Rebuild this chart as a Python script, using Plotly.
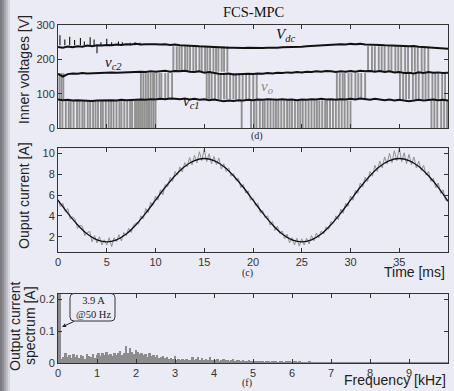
import plotly.graph_objects as go

# ---------------- data ----------------
TIME_TICKS = [0, 5, 10, 15, 20, 25, 30, 35, 40]
FREQ_TICKS = [0, 1, 2, 3, 4, 5, 6, 7, 8, 9, 10]

# measured output current (grey), 0.25 ms steps
I_STEP = 0.25
i_meas = [5.6, 4.9, 5.2, 4.4, 4.7, 3.7, 3.9, 3.7, 2.8, 3.1, 3.0, 2.1, 2.4, 2.5, 1.5, 2.1, 1.4, 2.0, 1.2, 1.7,
          1.2, 1.9, 1.05, 1.9, 1.5, 2.2, 1.6, 2.4, 2.1, 2.8, 2.4, 3.1, 3.35, 3.2, 4.0, 3.7, 4.7, 4.3, 5.3, 5.0,
          5.9, 5.5, 6.5, 6.0, 7.0, 6.8, 7.7, 7.3, 8.25, 7.9, 8.7, 8.2, 9.1, 8.7, 9.6, 8.9, 9.8, 9.1, 10.15, 9.3,
          10.4, 9.2, 9.95, 9.0, 9.7, 8.9, 9.55, 8.5, 9.0, 8.25, 8.6, 7.8, 8.05, 7.4, 7.6, 6.7, 7.0, 6.2, 6.4, 5.5,
          5.7, 5.0, 5.2, 4.3, 4.5, 3.8, 4.0, 3.1, 3.45, 2.6, 3.0, 2.3, 2.55, 1.8, 2.25, 1.4, 1.9, 1.2, 1.85, 1.1,
          1.8, 1.2, 1.85, 1.3, 2.1, 1.6, 2.35, 1.9, 2.55, 2.25, 2.95, 2.7, 3.45, 3.3, 4.0, 3.65, 4.65, 4.25, 5.2, 4.9,
          5.9, 5.5, 6.45, 6.15, 7.15, 6.75, 7.7, 7.3, 8.25, 7.8, 8.85, 8.25, 9.25, 8.6, 9.65, 9.0, 10.0, 9.1, 10.25, 9.3,
          10.5, 9.2, 10.05, 9.0, 9.9, 8.9, 9.65, 8.6, 9.25, 8.35, 8.85, 7.9, 8.25, 7.3, 7.6, 6.7, 7.15, 6.15, 6.5, 5.5,
          5.4]

# reference current (black), 1 ms steps
REF_STEP = 1.0
i_ref = [5.50, 4.26, 3.15, 2.26, 1.70, 1.50, 1.70, 2.26, 3.15, 4.26,
         5.50, 6.74, 7.85, 8.74, 9.30, 9.50, 9.30, 8.74, 7.85, 6.74,
         5.50, 4.26, 3.15, 2.26, 1.70, 1.50, 1.70, 2.26, 3.15, 4.26,
         5.50, 6.74, 7.85, 8.74, 9.30, 9.50, 9.30, 8.74, 7.85, 6.74, 5.40]

# inner voltages, 0.5 ms steps
V_STEP = 0.5
vdc = [236, 234, 237, 235, 238, 237, 240, 238, 241, 240, 242, 241, 243, 242, 244, 243, 245, 243, 244, 245,
       244, 243, 244, 242, 243, 241, 241, 240, 239, 238, 237, 237, 236, 235, 235, 234, 234, 233, 233, 234,
       233, 232, 233, 234, 233, 234, 235, 235, 236, 237, 237, 238, 239, 240, 241, 241, 242, 243, 244, 243,
       245, 244, 245, 243, 243, 244, 242, 241, 241, 240, 240, 239, 238, 239, 237, 236, 235, 234, 233, 232, 231]
vc2 = [158, 150, 157, 159, 158, 160, 159, 160, 161, 160, 161, 162, 161, 162, 163, 162, 163, 164, 163, 165,
       164, 165, 167, 164, 166, 165, 167, 164, 163, 165, 161, 163, 160, 158, 157, 159, 156, 157, 156, 158,
       157, 159, 158, 160, 159, 161, 160, 162, 161, 163, 162, 164, 163, 165, 164, 166, 165, 163, 165, 164,
       166, 164, 167, 165, 166, 164, 166, 163, 165, 162, 163, 160, 161, 159, 162, 160, 163, 161, 162, 160, 161]
vc1 = [83, 81, 82, 80, 81, 80, 81, 79, 80, 81, 80, 81, 80, 82, 81, 82, 81, 83, 82, 84,
       83, 85, 84, 86, 85, 84, 86, 83, 85, 82, 84, 81, 83, 80, 78, 80, 79, 81, 80, 82,
       81, 83, 82, 84, 83, 82, 84, 82, 83, 81, 83, 82, 84, 83, 85, 83, 84, 82, 84, 83,
       85, 83, 86, 84, 82, 85, 83, 81, 83, 80, 82, 80, 78, 80, 82, 80, 81, 83, 81, 82, 80]

vdc_base = 241
vdc_spike_t = [0.2, 0.7, 1.2, 1.7, 2.3, 2.7, 3.3, 3.7, 4.0, 4.4, 5.0, 5.5, 6.2, 6.6, 7.4, 7.9, 8.4]
vdc_spike_top = [270, 258, 266, 256, 262, 252, 264, 258, 218, 250, 260, 250, 252, 250, 248, 250, 248]

# switching instants of the output voltage v_o in each level band [ms]
vo_band_levels = [(80, 0), (160, 84), (238, 164)]
vo_pulses_0_80 = [0.2, 0.45, 0.8, 1.1, 1.3, 1.6, 1.95, 2.2, 2.5, 2.7, 3.05, 3.3, 3.6, 3.85, 4.1, 4.4, 4.6,
                  4.9, 5.2, 5.45, 5.7, 6.0, 6.3, 6.5, 6.8, 7.1, 7.4, 7.6, 7.9, 8.1, 8.3, 8.5, 8.7, 8.9, 9.1,
                  9.25, 9.4, 9.6, 9.8, 10.0, 18.84, 19.8, 20.1, 20.35, 20.7, 21.0, 21.2, 21.5, 21.8, 22.1,
                  22.35, 22.6, 22.9, 23.2, 23.5, 23.75, 24.0, 24.3, 24.6, 24.85, 25.1, 25.4, 25.7, 26.0,
                  26.3, 26.55, 26.8, 27.1, 27.4, 27.6, 27.9, 28.2, 28.5, 28.8, 29.1, 29.4, 29.7, 30.0,
                  38.3, 38.6, 38.9, 39.3, 39.6, 39.9]
vo_pulses_80_160 = [0.15, 0.35, 0.55, 8.5, 8.75, 9.0, 9.25, 9.5, 9.75, 9.85, 10.1, 10.4, 10.6, 11.0, 11.3,
                    11.7, 15.25, 15.5, 15.76, 16.1, 16.45, 16.69, 17.03, 17.3, 17.65, 17.99, 18.26, 18.6,
                    18.94, 19.29, 19.63, 20.03, 20.38, 28.6, 28.9, 29.2, 29.4, 29.8, 30.1, 30.5, 30.8, 31.1,
                    31.5, 35.07, 35.4, 35.7, 36.0, 36.4, 36.7, 37.0, 37.4, 37.7, 38.0, 38.4, 38.7, 39.0,
                    39.4, 39.7]
vo_pulses_160_240 = [11.83, 12.18, 12.45, 12.69, 13.03, 13.27, 13.54, 13.88, 14.16, 14.5, 14.74, 15.08,
                     15.32, 15.6, 15.94, 16.21, 16.45, 16.79, 17.03, 17.37, 31.8, 32.2, 32.5, 32.9, 33.2,
                     33.5, 33.9, 34.2, 34.6, 34.9, 35.2, 35.6, 35.9, 36.3, 36.6, 36.9, 37.3, 37.6, 37.98]

# output current spectrum, 50 Hz bins starting at 50 Hz [A]
SPEC_DF = 0.05
spec_amp = [3.9, 0.012, 0.02, 0.03, 0.018, 0.025, 0.015, 0.028, 0.02, 0.024, 0.017, 0.026, 0.021, 0.014, 0.027, 0.022, 0.019, 0.029, 0.016, 0.024,
            0.032, 0.022, 0.03, 0.026, 0.034, 0.025, 0.028, 0.021, 0.031, 0.024, 0.03, 0.038, 0.026, 0.033, 0.052, 0.03, 0.046, 0.036, 0.028, 0.04,
            0.035, 0.027, 0.031, 0.024, 0.029, 0.02, 0.033, 0.022, 0.026, 0.018, 0.024, 0.016, 0.02, 0.022, 0.015, 0.019, 0.013, 0.017, 0.012, 0.021,
            0.011, 0.014, 0.009, 0.012, 0.01, 0.013, 0.009, 0.011, 0.02, 0.01, 0.012, 0.018, 0.009, 0.016, 0.011, 0.014, 0.008, 0.02, 0.009, 0.011,
            0.008, 0.012, 0.007, 0.01, 0.014, 0.008, 0.011, 0.007, 0.009, 0.012, 0.006, 0.01, 0.008, 0.005, 0.009, 0.007, 0.006, 0.008, 0.005, 0.007,
            0.005, 0.004, 0.006, 0.004, 0.005, 0.003, 0.006, 0.004, 0.003, 0.005, 0.004, 0.006, 0.003, 0.004, 0.005, 0.003, 0.004, 0.007, 0.004, 0.003,
            0.004, 0.006, 0.003, 0.005, 0.003, 0.002, 0.003, 0.002, 0.004, 0.002, 0.001, 0.002, 0.003, 0.001, 0.002, 0.001, 0.002, 0.001, 0.001, 0.002,
            0.001, 0.002, 0.001, 0.001, 0.002, 0.001, 0.001, 0.001, 0.002, 0.001, 0.001, 0.001, 0.002, 0.001, 0.001, 0.001, 0.001, 0.002, 0.001, 0.001,
            0.001, 0.001, 0.002, 0.001, 0.001, 0.001, 0.001, 0.001, 0.002, 0.001, 0.001, 0.001, 0.001, 0.001, 0.002, 0.001, 0.001, 0.001, 0.001, 0.001,
            0.002, 0.001, 0.001, 0.001, 0.001, 0.001, 0.001, 0.002, 0.001, 0.001, 0.001, 0.001, 0.001, 0.001, 0.002, 0.001, 0.001, 0.001, 0.001, 0.003]

# ---------------- figure ----------------
W, H = 454, 391
ML, MR, MT, MB = 58, 6, 25, 28
PW, PH = W - ML - MR, H - MT - MB


def px(xp):
    return (xp - ML) / PW


def py(yp):
    return (H - MB - yp) / PH


BG = "#EBEBF5"
GREY = "rgb(145,145,145)"
BLACK = "#111111"
AX = "#333333"
SANS = "Liberation Sans"
SERIF = "Liberation Serif"

fig = go.Figure()

# --- top panel: grey switching pulses of v_o
pulse_sets = [vo_pulses_0_80, vo_pulses_80_160, vo_pulses_160_240]
for (hi, lo), times in zip(vo_band_levels, pulse_sets):
    xs, ys = [], []
    for t in times:
        xs += [t, t, None]
        ys += [hi, lo, None]
    fig.add_trace(go.Scatter(x=xs, y=ys, mode="lines", line=dict(color=GREY, width=1.9),
                             xaxis="x", yaxis="y", hoverinfo="skip"))

# spikes on Vdc
sx, sy = [], []
for t, top in zip(vdc_spike_t, vdc_spike_top):
    sx += [t, t, None]
    sy += [vdc_base, top, None]
fig.add_trace(go.Scatter(x=sx, y=sy, mode="lines", line=dict(color=BLACK, width=1.1),
                         xaxis="x", yaxis="y"))

for series in (vdc, vc2, vc1):
    fig.add_trace(go.Scatter(x=[i * V_STEP for i in range(len(series))], y=series, mode="lines",
                             line=dict(color=BLACK, width=2), xaxis="x", yaxis="y"))

# --- middle panel: current
fig.add_trace(go.Scatter(x=[i * I_STEP for i in range(len(i_meas))], y=i_meas, mode="lines",
                         line=dict(color=GREY, width=1), xaxis="x2", yaxis="y2"))
fig.add_trace(go.Scatter(x=[i * REF_STEP for i in range(len(i_ref))], y=i_ref, mode="lines",
                         line=dict(color=BLACK, width=1.3, shape="spline"), xaxis="x2", yaxis="y2"))

# --- bottom panel: spectrum
fig.add_trace(go.Bar(x=[(k + 1) * SPEC_DF for k in range(len(spec_amp))], y=spec_amp,
                     width=SPEC_DF, marker=dict(color="rgb(140,140,140)", line=dict(width=0)),
                     xaxis="x3", yaxis="y3"))

axis_common = dict(showline=True, linecolor=AX, linewidth=1, mirror="ticks", ticks="inside",
                   ticklen=4, tickcolor=AX, showgrid=False, zeroline=False,
                   tickfont=dict(family=SANS, size=11, color="#333"))

d_top = [py(128), py(25)]
d_mid = [py(251.7), py(148.3)]
d_bot = [py(363), py(294)]

fig.update_layout(
    width=W, height=H,
    margin=dict(l=ML, r=MR, t=MT, b=MB, autoexpand=False),
    paper_bgcolor=BG, plot_bgcolor=BG,
    showlegend=False, bargap=0,
    xaxis=dict(axis_common, domain=[0, 1], range=[0, 40], tickvals=TIME_TICKS, showticklabels=False, anchor="y"),
    yaxis=dict(axis_common, domain=d_top, range=[0, 300], tickvals=[0, 100, 200, 300], anchor="x"),
    xaxis2=dict(axis_common, domain=[0, 1], range=[0, 40], tickvals=TIME_TICKS, anchor="y2"),
    yaxis2=dict(axis_common, domain=d_mid, range=[0.56, 10.48], tickvals=[2, 4, 6, 8, 10], anchor="x2"),
    xaxis3=dict(axis_common, domain=[0, 1], range=[0, 10], tickvals=FREQ_TICKS, anchor="y3"),
    yaxis3=dict(axis_common, domain=d_bot, range=[0, 0.217], tickvals=[0, 0.1, 0.2], anchor="x3"),
)

ann = []


def A(text, xp, yp, size, family=SANS, color="#222", xanchor="center", angle=0, yanchor="middle"):
    ann.append(dict(text=text, x=px(xp), y=py(yp), xref="paper", yref="paper", showarrow=False,
                    font=dict(family=family, size=size, color=color), xanchor=xanchor,
                    yanchor=yanchor, textangle=angle))


A("FCS-MPC", 253, 12.5, 14.5, SERIF, "#111")
A("Inner voltages [V]", 24, 70, 14, angle=-90)
A("Ouput current [A]", 24, 196, 14, angle=-90)
A("Output current", 15, 326, 14, angle=-90)
A("spectrum [A]", 30, 326, 14, angle=-90)
A("Time [ms]", 447, 272, 14, xanchor="right")
A("Frequency [kHz]", 448, 380, 14, xanchor="right")
A("(d)", 257, 136, 10, SERIF, "#222")
A("(c)", 247, 273, 10, SERIF, "#222")
A("(f)", 247, 383, 10, SERIF, "#222")

# series labels
A("<i>V</i><sub><i>dc</i></sub>", 285, 35, 15, SERIF, "#111")
A("<i>v</i><sub><i>c2</i></sub>", 113, 63, 15, SERIF, "#111")
A("<i>v</i><sub><i>o</i></sub>", 267, 87, 15, SERIF, "#888")
A("<i>v</i><sub><i>c1</i></sub>", 191, 102, 15, SERIF, "#111")

# 50 Hz annotation box
A("3.9 A<br>@50 Hz", 74, 307, 10.5, SERIF, "#222", xanchor="left")
ann.append(dict(text=" ", x=px(62), y=py(327), xref="paper", yref="paper",
                ax=15, ay=-7, showarrow=True, arrowhead=2, arrowsize=0.8, arrowwidth=1,
                arrowcolor="#222"))
fig.update_layout(annotations=ann)

shapes = []
# rounded box
x0, x1, y0, y1 = px(70), px(115), py(321), py(293.5)
rx, ry = 4 / PW, 4 / PH
path = (f"M {x0+rx},{y1} L {x1-rx},{y1} Q {x1},{y1} {x1},{y1-ry} L {x1},{y0+ry} Q {x1},{y0} {x1-rx},{y0} "
        f"L {x0+rx},{y0} Q {x0},{y0} {x0},{y0+ry} L {x0},{y1-ry} Q {x0},{y1} {x0+rx},{y1} Z")
shapes.append(dict(type="path", path=path, xref="paper", yref="paper",
                   line=dict(color="#333", width=1), fillcolor=BG))
# left scanned-page edge
edge = [(0, 2, "#7c7c80"), (2, 4, "#8e8e92"), (4, 6, "#a4a4aa"), (6, 8, "#bebec6"), (8, 10, "#d6d6e0")]
for a, b, c in edge:
    shapes.append(dict(type="rect", xref="paper", yref="paper", x0=px(a), x1=px(b), y0=py(H), y1=py(0),
                       line=dict(width=0), fillcolor=c, layer="below"))
fig.update_layout(shapes=shapes)

fig.write_html("out.html", config={"displayModeBar": False},
               post_script="document.body.style.margin='0';document.body.style.background='" + BG + "';")
